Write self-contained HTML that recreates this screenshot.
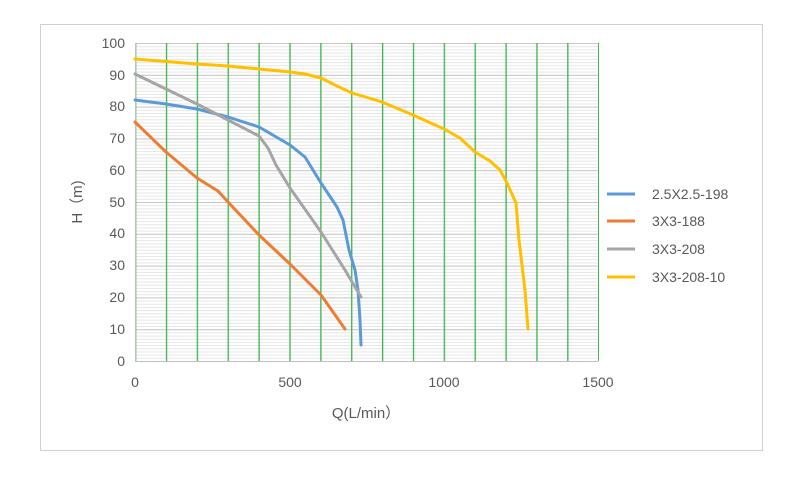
<!DOCTYPE html>
<html><head><style>body{margin:0;background:#fff}svg{display:block}text{font-family:"Liberation Sans","Noto Sans CJK SC",sans-serif;fill:#595959}</style></head>
<body>
<svg width="803" height="477" xmlns="http://www.w3.org/2000/svg">
<defs>
<pattern id="mn" patternUnits="userSpaceOnUse" x="0" y="43" width="10" height="3.18"><line x1="0" x2="10" y1="0.5" y2="0.5" stroke="#e6e6e6" stroke-width="1"/></pattern>
<pattern id="mj" patternUnits="userSpaceOnUse" x="0" y="43" width="10" height="31.8"><line x1="0" x2="10" y1="0.5" y2="0.5" stroke="#c8c8c8" stroke-width="1"/></pattern>
<pattern id="vg" patternUnits="userSpaceOnUse" x="135" y="0" width="30.87" height="10"><line x1="0.65" x2="0.65" y1="0" y2="10" stroke="#3cb44b" stroke-width="1.3"/></pattern>
</defs>
<rect x="40.5" y="24.5" width="722" height="426" fill="#fff" stroke="#d0d0d0"/>
<rect x="135" y="43" width="463" height="318" fill="url(#mn)"/>
<rect x="135" y="43" width="463" height="318" fill="url(#mj)"/>
<rect x="135" y="43" width="464" height="318" fill="url(#vg)"/>
<line x1="135.5" x2="135.5" y1="43" y2="361" stroke="#bfbfbf"/>
<line x1="135" x2="598" y1="361.5" y2="361.5" stroke="#bfbfbf"/>
<g font-size="14" text-anchor="end">
<text x="125" y="366">0</text><text x="125" y="334">10</text><text x="125" y="302">20</text><text x="125" y="270">30</text><text x="125" y="238">40</text><text x="125" y="207">50</text><text x="125" y="175">60</text><text x="125" y="143">70</text><text x="125" y="111">80</text><text x="125" y="80">90</text><text x="125" y="48">100</text>
</g>
<g font-size="14" text-anchor="middle">
<text x="135" y="387">0</text><text x="290" y="387">500</text><text x="444" y="387">1000</text><text x="598" y="387">1500</text>
<text x="366" y="418" font-size="15">Q(L/min）</text>
</g>
<text x="82" y="202" font-size="15" text-anchor="middle" transform="rotate(-90 82 202)">H（m)</text>
<g fill="none" stroke-width="3" stroke-linejoin="round" stroke-linecap="round">
<polyline stroke="#5b9bd5" points="135,100 166,104 197,109 228,117 259,127 290,145 305,157 321,183 337,207 343,220 349,250 355,270 358,290 360,320 361,345"/>
<polyline stroke="#ed7d31" points="135,122 166,152 197,178 218,191 228,202 259,235 290,264 321,295 345,329"/>
<polyline stroke="#a5a5a5" points="135,74 166,89 197,104 228,120 259,136 268,148 276,165 290,188 321,232 345,270 361,297"/>
<polyline stroke="#ffc000" points="135,59 197,64 228,66 259,69 290,72 305,74 321,78 337,86 352,93 382,102 413,115 444,129 460,138 475,152 490,161 500,170 507,183 516,203 519,240 525,290 528,329"/>
</g>
<g stroke-width="3">
<line x1="607" y1="194" x2="635" y2="194" stroke="#5b9bd5"/>
<line x1="607" y1="221" x2="635" y2="221" stroke="#ed7d31"/>
<line x1="607" y1="249" x2="635" y2="249" stroke="#a5a5a5"/>
<line x1="607" y1="277" x2="635" y2="277" stroke="#ffc000"/>
</g>
<g font-size="14">
<text x="652" y="199">2.5X2.5-198</text><text x="652" y="226">3X3-188</text><text x="652" y="254">3X3-208</text><text x="652" y="282">3X3-208-10</text>
</g>
</svg>
</body></html>
